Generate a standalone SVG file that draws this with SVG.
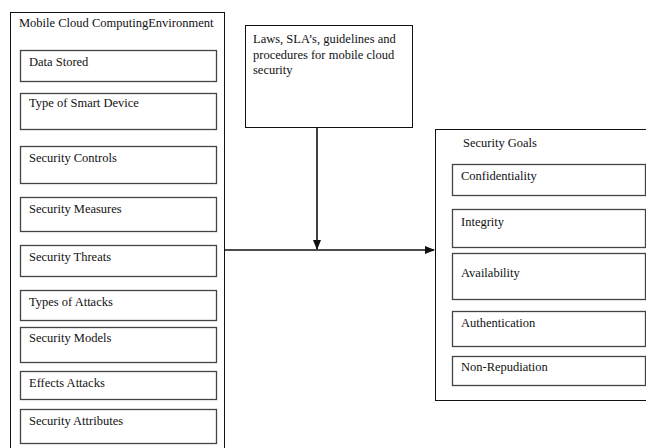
<svg xmlns="http://www.w3.org/2000/svg" width="646" height="448" viewBox="0 0 646 448">
<style>
.outer{fill:#fff;stroke:#111;stroke-width:1}
.box{fill:#fff;stroke:#444;stroke-width:1.3}
text{font-family:"Liberation Serif","Times New Roman",serif;font-size:12.5px;fill:#111}
.ln{stroke:#111;stroke-width:1.6;fill:none}
</style>
<defs>
<marker id="ah" markerWidth="10" markerHeight="8" refX="9" refY="4" orient="auto" markerUnits="userSpaceOnUse">
<path d="M0,0 L10,4 L0,8 Z" fill="#111"/>
</marker>
</defs>
<rect width="646" height="448" fill="#fff"/>
<g id="mcce">
<rect class="outer" x="10.5" y="12.5" width="214" height="440"/>
<text x="19" y="27">Mobile Cloud ComputingEnvironment</text>
</g>
<g id="data-stored"><rect class="box" x="20.5" y="50.5" width="196" height="31"/><text x="29" y="66">Data Stored</text></g>
<g id="smart-device"><rect class="box" x="20.5" y="93.5" width="196" height="36"/><text x="29" y="107">Type of Smart Device</text></g>
<g id="sec-controls"><rect class="box" x="20.5" y="146.5" width="196" height="37"/><text x="29" y="162">Security Controls</text></g>
<g id="sec-measures"><rect class="box" x="20.5" y="197.5" width="196" height="34"/><text x="29" y="213">Security Measures</text></g>
<g id="sec-threats"><rect class="box" x="20.5" y="245.5" width="196" height="31"/><text x="29" y="261">Security Threats</text></g>
<g id="attacks"><rect class="box" x="20.5" y="290.5" width="196" height="30"/><text x="29" y="306">Types of Attacks</text></g>
<g id="sec-models"><rect class="box" x="20.5" y="327.5" width="196" height="35"/><text x="29" y="342">Security Models</text></g>
<g id="effects"><rect class="box" x="20.5" y="371.5" width="196" height="28"/><text x="29" y="387">Effects Attacks</text></g>
<g id="sec-attributes"><rect class="box" x="20.5" y="409.5" width="196" height="34"/><text x="29" y="425">Security Attributes</text></g>

<g id="laws">
<rect class="outer" x="245.5" y="25.5" width="167" height="102"/>
<text x="253" y="43">Laws, SLA’s, guidelines and</text>
<text x="253" y="59">procedures for mobile cloud</text>
<text x="253" y="74">security</text>
</g>

<g id="goals">
<rect class="outer" x="435.5" y="129.5" width="220" height="271"/>
<text x="463" y="147">Security Goals</text>
</g>
<g id="confidentiality"><rect class="box" x="452.5" y="164.5" width="193" height="31"/><text x="461" y="180">Confidentiality</text></g>
<g id="integrity"><rect class="box" x="452.5" y="209.5" width="193" height="38"/><text x="461" y="226">Integrity</text></g>
<g id="availability"><rect class="box" x="452.5" y="253.5" width="193" height="46"/><text x="461" y="277">Availability</text></g>
<g id="authentication"><rect class="box" x="452.5" y="311.5" width="193" height="35"/><text x="461" y="327">Authentication</text></g>
<g id="non-repudiation"><rect class="box" x="452.5" y="356.5" width="193" height="29"/><text x="461" y="371">Non-Repudiation</text></g>

<g id="connectors">
<line class="ln" x1="317" y1="128" x2="317" y2="249" marker-end="url(#ah)"/>
<line class="ln" x1="225" y1="250" x2="434" y2="250" marker-end="url(#ah)"/>
</g>
</svg>
